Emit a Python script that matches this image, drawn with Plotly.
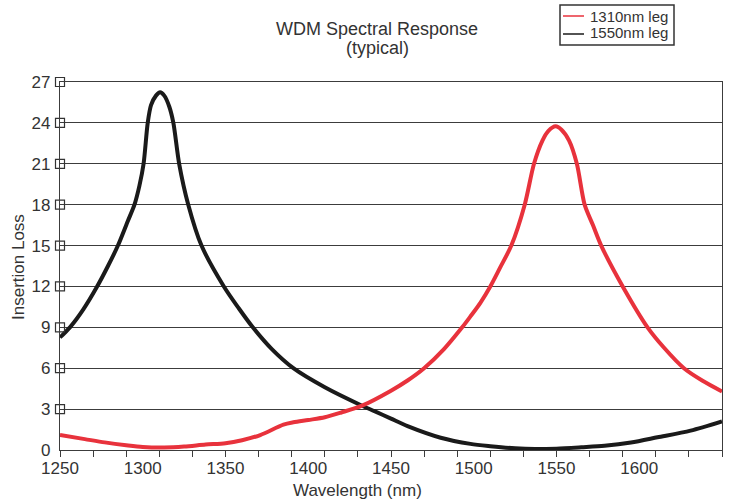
import plotly.graph_objects as go

# ---------------- data ----------------
wl_1550 = [1250, 1256, 1264, 1272, 1279, 1285, 1291, 1295, 1298, 1300.5, 1303, 1305, 1308,
           1310.5, 1313, 1316, 1318.5, 1322, 1327.5, 1335.5, 1349, 1358, 1366.5, 1378, 1391,
           1410, 1432.5, 1440, 1450, 1460, 1480, 1498, 1510, 1525, 1537, 1550, 1565, 1579,
           1595, 1611, 1631, 1650]
il_1550 = [8.26, 9.0, 10.3, 11.9, 13.5, 15.0, 16.8, 18.0, 19.4, 21.0, 24.0, 25.3, 26.0,
           26.25, 26.0, 25.2, 24.0, 21.0, 18.0, 15.0, 12.0, 10.4, 9.0, 7.4, 6.0,
           4.6, 3.25, 2.85, 2.3, 1.75, 0.9, 0.45, 0.28, 0.12, 0.07, 0.1, 0.2, 0.31,
           0.55, 0.93, 1.42, 2.1]

wl_1310 = [1250, 1265, 1277, 1290, 1300, 1313, 1325, 1338, 1350, 1360, 1371, 1385, 1391,
           1400, 1410, 1420, 1432.5, 1450, 1460, 1470, 1482, 1493, 1498, 1504, 1510, 1516,
           1522.7, 1530.8, 1536.4, 1541.5, 1545, 1549.5, 1553, 1557.6, 1562.3, 1567, 1572,
           1577, 1590, 1605, 1615, 1627, 1638, 1650]
il_1310 = [1.1, 0.8, 0.56, 0.35, 0.22, 0.18, 0.25, 0.4, 0.5, 0.72, 1.1, 1.86, 2.03,
           2.2, 2.4, 2.75, 3.25, 4.35, 5.1, 6.0, 7.4, 9.0, 9.8, 10.8, 12.0, 13.4,
           15.0, 18.0, 21.0, 22.7, 23.4, 23.75, 23.5, 22.7, 21.0, 18.0, 16.5,
           15.0, 12.0, 9.0, 7.5, 6.0, 5.1, 4.3]

series_names = ["1310nm leg", "1550nm leg"]
series_colors = ["#e8323c", "#1a1a1a"]

x_labels = [1250, 1300, 1350, 1400, 1450, 1500, 1550, 1600, 1650]
y_ticks = [0, 3, 6, 9, 12, 15, 18, 21, 24, 27]

FONT = "Liberation Sans, Arial, Helvetica, sans-serif"
TXT = "#333333"
GRID = "#3c3c3c"

# plot area in pixels (for decorations)
L, R, T, B = 60, 722, 82, 450
def px(x):
    return (x - L) / (R - L)
def py(y):
    return (B - y) / (B - T)

fig = go.Figure()

fig.add_trace(go.Scatter(x=wl_1550, y=il_1550, mode="lines", name=series_names[1],
                         line=dict(color=series_colors[1], width=4, shape="spline", smoothing=0.8),
                         showlegend=False, hoverinfo="x+y"))
fig.add_trace(go.Scatter(x=wl_1310, y=il_1310, mode="lines", name=series_names[0],
                         line=dict(color=series_colors[0], width=4, shape="spline", smoothing=0.8),
                         showlegend=False, hoverinfo="x+y"))

# little open squares on the y axis at each tick
fig.add_trace(go.Scatter(x=[x_labels[0]] * (len(y_ticks) - 1), y=y_ticks[1:], mode="markers",
                         marker=dict(symbol="square-open", size=9, color="#333333",
                                     line=dict(width=1.2, color="#333333")),
                         cliponaxis=False, showlegend=False, hoverinfo="skip"))

# dummy trace for the minor-tick axis
fig.add_trace(go.Scatter(x=[x_labels[0]], y=[0], xaxis="x2", mode="markers",
                         marker=dict(opacity=0), showlegend=False, hoverinfo="skip"))

fig.update_layout(
    width=738, height=502,
    margin=dict(l=L, r=738 - R, t=T, b=502 - B),
    paper_bgcolor="white", plot_bgcolor="white",
    font=dict(family=FONT, color=TXT, size=17),
    showlegend=False,
    xaxis=dict(range=[1250, 1650], tickvals=x_labels, ticks="", showgrid=False,
               showline=True, linecolor=GRID, linewidth=1.4, mirror=True, zeroline=False,
               tickfont=dict(size=17, color=TXT), ticklabelstandoff=2),
    xaxis2=dict(range=[1250, 1650], overlaying="x", anchor="y", side="bottom",
                tick0=1250, dtick=20, ticks="outside", ticklen=6, tickwidth=1.3,
                tickcolor=GRID, showticklabels=False, showgrid=False, showline=False,
                zeroline=False),
    yaxis=dict(range=[0, 27], tickvals=y_ticks, ticks="", showgrid=True, gridcolor=GRID,
               gridwidth=1.3, showline=True, linecolor=GRID, linewidth=1.4, mirror=True,
               zeroline=False, tickfont=dict(size=17, color=TXT), ticklabelstandoff=5),
)

annotations = [
    dict(text="WDM Spectral Response", x=px(377), y=py(28.5), xref="paper", yref="paper",
         showarrow=False, font=dict(size=18, color=TXT), xanchor="center", yanchor="middle"),
    dict(text="(typical)", x=px(377), y=py(47.5), xref="paper", yref="paper",
         showarrow=False, font=dict(size=18, color=TXT), xanchor="center", yanchor="middle"),
    dict(text="Wavelength (nm)", x=px(357), y=py(490), xref="paper", yref="paper",
         showarrow=False, font=dict(size=17, color=TXT), xanchor="center", yanchor="middle"),
    dict(text="Insertion Loss", x=px(18), y=py(267), xref="paper", yref="paper", textangle=-90,
         showarrow=False, font=dict(size=17, color=TXT), xanchor="center", yanchor="middle"),
]
# manual legend
leg_rows = [16.5, 32.5]
for name, col, ry in zip(series_names, series_colors, leg_rows):
    annotations.append(dict(text=name, x=px(588), y=py(ry), xref="paper", yref="paper",
                            showarrow=False, font=dict(size=15, color=TXT),
                            xanchor="left", yanchor="middle"))
fig.update_layout(annotations=annotations)

shapes = [dict(type="rect", xref="paper", yref="paper", x0=px(560), x1=px(674), y0=py(45), y1=py(5),
               line=dict(color="#333333", width=1.5), fillcolor="white", layer="above")]
for col, ry in zip(series_colors, [16, 34]):
    shapes.append(dict(type="line", xref="paper", yref="paper", x0=px(563), x1=px(584),
                       y0=py(ry), y1=py(ry), line=dict(color=col, width=1.5)))
fig.update_layout(shapes=shapes)

fig.write_html("out.html", config={"displayModeBar": False},
               post_script="document.body.style.margin='0';document.body.style.padding='0';")
